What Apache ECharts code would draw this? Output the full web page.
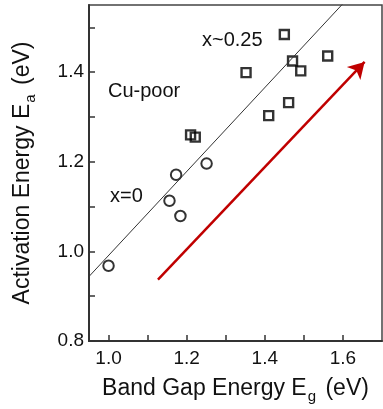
<!DOCTYPE html>
<html><head><meta charset="utf-8">
<script src="https://cdn.jsdelivr.net/npm/echarts@6/dist/echarts.min.js"></script>
<style>html,body{margin:0;padding:0;background:#fff}#c{width:383px;height:409px}</style>
</head><body><div id="c"></div>
<script>
// x = 0 (circles): [band gap Eg, activation energy Ea]
const circlesX = [1.00, 1.156, 1.173, 1.184, 1.251];
const circlesY = [0.968, 1.113, 1.171, 1.079, 1.196];
// x ~ 0.25 (squares)
const squaresX = [1.21, 1.222, 1.352, 1.41, 1.45, 1.461, 1.471, 1.492, 1.561];
const squaresY = [1.260, 1.255, 1.399, 1.303, 1.484, 1.332, 1.425, 1.403, 1.436];
// reference line
const lineX = [0.95, 1.60];
const lineY = [0.944, 1.553];
// red arrow
const arrowX = [1.1265, 1.6555];
const arrowY = [0.937, 1.423];
const xTickLabels = [1.0, 1.2, 1.4, 1.6];
const xTickMarks = [1.0, 1.1, 1.2, 1.3, 1.4, 1.5, 1.6];
const yTickLabels = [0.8, 1.0, 1.2, 1.4];
const yTickMarks = [0.8, 0.9, 1.0, 1.1, 1.2, 1.3, 1.4, 1.5];

const font = "'Liberation Sans', Arial, Helvetica, sans-serif";
const zip = (a, b) => a.map((v, i) => [v, b[i]]);
const chart = echarts.init(document.getElementById('c'));
chart.setOption({
  animation: false,
  grid: { left: 89, right: 1, top: 5, bottom: 67, show: true, borderColor: '#444', borderWidth: 1.5 },
  xAxis: {
    type: 'value', min: 0.95, max: 1.7,
    name: 'Band Gap Energy E{sub|g} (eV)', nameLocation: 'middle', nameGap: 33,
    nameTextStyle: { fontFamily: font, fontSize: 23, color: '#111',
      rich: { sub: { fontFamily: font, fontSize: 15, color: '#111', padding: [15, 3, 0, 1] } } },
    axisLine: { lineStyle: { color: '#333', width: 2 } },
    axisTick: { inside: true, length: 6, customValues: xTickMarks, lineStyle: { color: '#333', width: 1.5 } },
    axisLabel: { fontFamily: font, fontSize: 19, color: '#111', margin: 8, customValues: xTickLabels,
      formatter: v => v.toFixed(1) },
    splitLine: { show: false }
  },
  yAxis: {
    type: 'value', min: 0.8, max: 1.55,
    name: 'Activation Energy E{sub|a} (eV)', nameLocation: 'middle', nameGap: 51,
    nameTextStyle: { fontFamily: font, fontSize: 23, color: '#111',
      rich: { sub: { fontFamily: font, fontSize: 15, color: '#111', padding: [15, 3, 0, 1] } } },
    axisLine: { lineStyle: { color: '#333', width: 2 } },
    axisTick: { inside: true, length: 6, customValues: yTickMarks, lineStyle: { color: '#333', width: 1.5 } },
    axisLabel: { fontFamily: font, fontSize: 19, color: '#111', margin: 5, customValues: yTickLabels,
      formatter: v => v.toFixed(1) },
    splitLine: { show: false }
  },
  series: [
    { type: 'line', data: zip(lineX, lineY), symbol: 'none', silent: true,
      lineStyle: { color: '#333', width: 1 } },
    { type: 'scatter', data: zip(circlesX, circlesY), symbol: 'circle', symbolSize: 10.5,
      itemStyle: { color: 'rgba(255,255,255,0)', borderColor: '#000', borderWidth: 2 } },
    { type: 'scatter', data: zip(squaresX, squaresY), symbol: 'rect', symbolSize: 9,
      itemStyle: { color: 'rgba(255,255,255,0)', borderColor: '#000', borderWidth: 2.4 } },
    { type: 'line', data: [], markLine: {
        silent: true, symbol: ['none', 'arrow'], symbolSize: [14, 16], label: { show: false },
        lineStyle: { color: '#c00000', width: 2.5, type: 'solid' },
        data: [[{ coord: [arrowX[0], arrowY[0]] }, { coord: [arrowX[1], arrowY[1]] }]] } }
  ],
  graphic: [
    { type: 'text', left: 202, top: 30, style: { text: 'x~0.25', font: '20px ' + font, fill: '#111' } },
    { type: 'text', left: 108, top: 81, style: { text: 'Cu-poor', font: '20px ' + font, fill: '#111' } },
    { type: 'text', left: 110, top: 186, style: { text: 'x=0', font: '20px ' + font, fill: '#111' } }
  ]
});
</script></body></html>
